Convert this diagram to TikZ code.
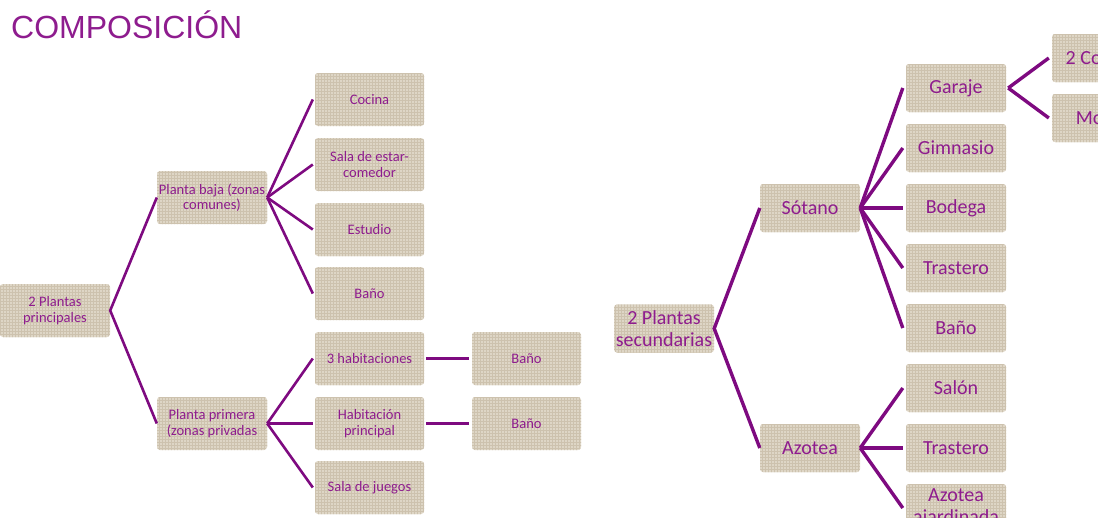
\documentclass[tikz,border=0pt]{standalone}
\usepackage{fontspec}
\setmainfont{Carlito}
\newfontfamily\titlefont{Liberation Sans}
\usetikzlibrary{patterns}
\definecolor{txtpurple}{HTML}{8E1C8E}
\definecolor{linepurple}{HTML}{7E0A80}
\definecolor{boxfill}{HTML}{DED6C6}
\definecolor{boxgrain}{HTML}{CDC2AE}
\tikzset{
  x=1pt, y=-1pt,
  box/.style={draw=none, rounded corners=3pt, fill=boxfill,
    postaction={pattern=grid, pattern color=boxgrain},
    text=txtpurple, align=center, inner sep=0pt, font=\fontsize{14.5}{15.5}\selectfont},
  lbox/.style={box, minimum width=109pt, minimum height=53pt},
  rbox/.style={box, minimum width=100pt, minimum height=48pt, font=\fontsize{20}{22.5}\selectfont},
  conn/.style={draw=linepurple, line width=2.6pt, line cap=butt, line join=miter},
  rconn/.style={conn, line width=3.4pt},
}
\begin{document}
\begin{tikzpicture}
\useasboundingbox (0,0) rectangle (1098,517);
\clip (0,0) rectangle (1098,517);
\node[anchor=base west, text=txtpurple, font=\titlefont\fontsize{32}{34}\selectfont, inner sep=0pt] (title) at (11,38) {COMPOSICIÓN};

% left tree
\node[lbox, minimum width=110pt] (root) at (55,310.5) {2 Plantas\\principales};
\node[lbox, minimum width=110pt] (baja) at (212,197.5) {Planta baja (zonas\\comunes)};
\node[lbox, minimum width=110pt] (primera) at (212,423.5) {Planta primera\\(zonas privadas};
\node[lbox] (cocina) at (369.5,99.5) {Cocina};
\node[lbox] (sala) at (369.5,164.5) {Sala de estar-\\comedor};
\node[lbox] (estudio) at (369.5,229.5) {Estudio};
\node[lbox] (bano1) at (369.5,293.5) {Baño};
\node[lbox] (hab3) at (369.5,358.5) {3 habitaciones};
\node[lbox] (habp) at (369.5,423.5) {Habitación\\principal};
\node[lbox] (juegos) at (369.5,487.5) {Sala de juegos};
\node[lbox] (bano2) at (526.5,358.5) {Baño};
\node[lbox] (bano3) at (526.5,423.5) {Baño};

\draw[conn] (baja.west) -- (root.east) -- (primera.west);
\foreach \c in {cocina,sala,estudio,bano1}{\draw[conn] (baja.east) -- ([xshift=-2pt]\c.west);}
\foreach \c in {hab3,habp,juegos}{\draw[conn] (primera.east) -- ([xshift=-2pt]\c.west);}
\draw[conn] ([xshift=2pt]hab3.east) -- ([xshift=-3pt]bano2.west);
\draw[conn] ([xshift=2pt]habp.east) -- ([xshift=-3pt]bano3.west);

% right tree
\node[rbox] (root2) at (664,328.5) {2 Plantas\\secundarias};
\node[rbox] (sotano) at (810,208) {Sótano};
\node[rbox] (azotea) at (810,448) {Azotea};
\node[rbox] (garaje) at (956,88) {Garaje};
\node[rbox] (gimnasio) at (956,148) {Gimnasio};
\node[rbox] (bodega) at (956,208) {Bodega};
\node[rbox] (trastero1) at (956,268) {Trastero};
\node[rbox] (bano4) at (956,328) {Baño};
\node[rbox] (salon) at (956,388) {Salón};
\node[rbox] (trastero2) at (956,448) {Trastero};
\node[rbox] (ajard) at (956,508) {Azotea\\ajardinada};
\node[rbox] (coches) at (1102,58) {2 Coches};
\node[rbox] (motos) at (1102,118) {Motos};

\draw[rconn] (sotano.west) -- (root2.east) -- (azotea.west);
\foreach \c in {garaje,gimnasio,bodega,trastero1,bano4}{\draw[rconn] (sotano.east) -- ([xshift=-3pt]\c.west);}
\foreach \c in {salon,trastero2,ajard}{\draw[rconn] (azotea.east) -- ([xshift=-3pt]\c.west);}
\draw[rconn] ([xshift=2pt]garaje.east) -- ([xshift=-3pt]coches.west);
\draw[rconn] ([xshift=2pt]garaje.east) -- ([xshift=-3pt]motos.west);
\end{tikzpicture}
\end{document}
